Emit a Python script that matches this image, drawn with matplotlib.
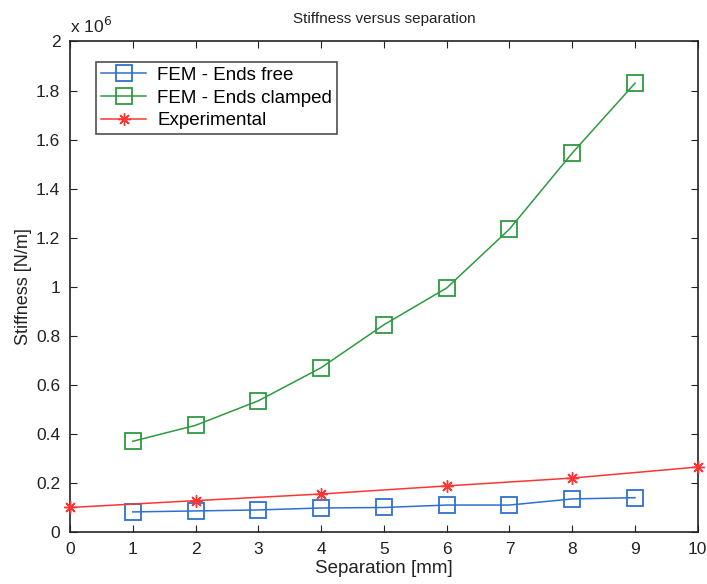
import matplotlib
matplotlib.use("Agg")
import matplotlib.pyplot as plt
import numpy as np

plt.rcParams['font.family'] = ['Liberation Sans', 'DejaVu Sans']

x_fem = [1, 2, 3, 4, 5, 6, 7, 8, 9]
free = [0.082, 0.086, 0.090, 0.098, 0.100, 0.110, 0.110, 0.135, 0.140]
clamped = [0.370, 0.435, 0.535, 0.670, 0.845, 0.995, 1.235, 1.545, 1.830]
x_exp = [0, 2, 4, 6, 8, 10]
exp_vals = [0.100, 0.128, 0.155, 0.188, 0.220, 0.265]
scale = 1e6

fig = plt.figure(figsize=(7.07, 5.84), dpi=100)
ax = fig.add_axes([0.099, 0.089, 0.888, 0.840])

ax.plot(x_fem, np.array(free) * scale, '-s', color='#2f6fd0', mfc='none', ms=11, mew=1.3, lw=1.1,
        label='FEM - Ends free')
ax.plot(x_fem, np.array(clamped) * scale, '-s', color='#2e9a40', mfc='none', ms=11, mew=1.3, lw=1.1,
        label='FEM - Ends clamped')
ax.plot(x_exp, np.array(exp_vals) * scale, '-', marker=(8, 2, 0), color='#ff3535', ms=9, mew=1.0, lw=1.1,
        label='Experimental', clip_on=False, zorder=5)

ax.set_xlim(0, 10)
ax.set_ylim(0, 2e6)
ax.set_xticks(range(0, 11))
yt = np.arange(0, 2.01, 0.2)
ax.set_yticks(yt * scale)
ax.set_yticklabels(['0', '0.2', '0.4', '0.6', '0.8', '1', '1.2', '1.4', '1.6', '1.8', '2'])
ax.tick_params(direction='in', top=True, right=True, labelsize=12.5, length=5, colors='#222222', pad=7)
for s in ax.spines.values():
    s.set_color('#222222')
    s.set_linewidth(1.2)

ax.text(0.0, 1.012, r'x 10$^6$', transform=ax.transAxes, fontsize=12.5, ha='left', va='bottom', color='#222222')
ax.set_title('Stiffness versus separation', fontsize=11, pad=13, color='#222222')
ax.set_xlabel('Separation [mm]', fontsize=13.5, labelpad=2, color='#222222')
ax.set_ylabel('Stiffness [N/m]', fontsize=13, labelpad=3, color='#222222')

leg = ax.legend(loc='upper left', bbox_to_anchor=(0.027, 0.977), fontsize=13.5, frameon=True, fancybox=False,
                edgecolor='#222222', handlelength=2.4, handletextpad=0.6, borderpad=0.25, labelspacing=0.3)
leg.get_frame().set_linewidth(1.2)

fig.savefig('out.png', dpi=100)
